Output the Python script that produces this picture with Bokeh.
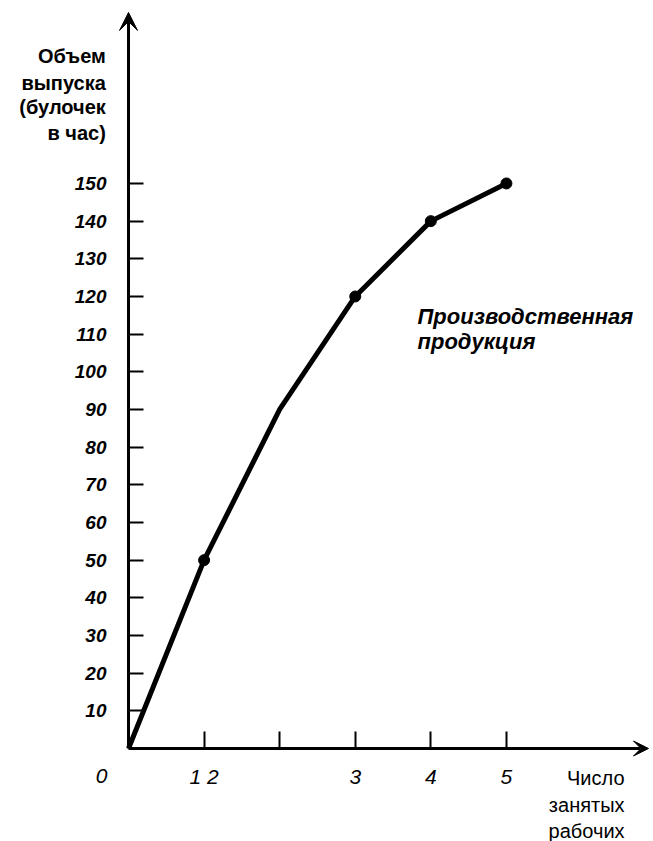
from bokeh.plotting import figure
from bokeh.models import Label, Arrow, VeeHead, FixedTicker, Range1d
from bokeh.embed import file_html
from bokeh.resources import INLINE

# ---- data ----
workers = [0, 1, 2, 3, 4, 5]
output = [0, 50, 90, 120, 140, 150]
marked_idx = [1, 3, 4, 5]

y_ticks = [10, 20, 30, 40, 50, 60, 70, 80, 90, 100, 110, 120, 130, 140, 150]
x_ticks = [1, 2, 3, 4, 5]
x_tick_labels = ["1 2", "", "3", "4", "5"]

y_title_lines = ["Объем", "выпуска", "(булочек", "в час)"]
x_title_lines = ["Число", "занятых", "рабочих"]
curve_label_lines = ["Производственная", "продукция"]

FONT = "Liberation Sans"

p = figure(width=653, height=841,
           x_range=Range1d(-1.6936, 6.946), y_range=Range1d(-24.69, 198.57),
           output_backend="svg", toolbar_location=None,
           min_border_left=0, min_border_right=0,
           min_border_top=0, min_border_bottom=0)
p.outline_line_color = None
p.grid.grid_line_color = None
p.background_fill_color = "white"
p.border_fill_color = "white"

# y axis
ya = p.yaxis[0]
ya.fixed_location = 0
ya.ticker = FixedTicker(ticks=y_ticks)
ya.axis_line_color = None
ya.major_tick_in = 15
ya.major_tick_out = 0
ya.minor_tick_in = 0
ya.minor_tick_out = 0
ya.major_tick_line_width = 2
ya.major_tick_line_color = "black"
ya.major_label_standoff = 22
ya.major_label_text_font = FONT
ya.major_label_text_font_style = "bold italic"
ya.major_label_text_font_size = "19px"
ya.major_label_text_color = "black"

# x axis
xa = p.xaxis[0]
xa.fixed_location = 0
xa.ticker = FixedTicker(ticks=x_ticks)
xa.major_label_overrides = {t: l for t, l in zip(x_ticks, x_tick_labels)}
xa.axis_line_color = None
xa.major_tick_in = 17
xa.major_tick_out = 0
xa.minor_tick_in = 0
xa.minor_tick_out = 0
xa.major_tick_line_width = 2
xa.major_tick_line_color = "black"
xa.major_label_standoff = 17
xa.major_label_text_font = FONT
xa.major_label_text_font_style = "italic"
xa.major_label_text_font_size = "21px"
xa.major_label_text_color = "black"

# axis arrows
p.add_layout(Arrow(end=VeeHead(size=18, fill_color="black", line_color="black", line_width=1),
                   x_start=0, y_start=0, x_end=0, y_end=195.4,
                   line_width=3, line_color="black"))
p.add_layout(Arrow(end=VeeHead(size=15, fill_color="black", line_color="black", line_width=1),
                   x_start=0, y_start=0, x_end=6.88, y_end=0,
                   line_width=3, line_color="black"))

# production curve
p.line(workers, output, line_width=5, line_color="black", line_join="round")
p.scatter([workers[i] for i in marked_idx], [output[i] for i in marked_idx],
          size=11, color="black")

# origin label
p.add_layout(Label(x=-0.357, y=-7.4, text="0", text_align="center",
                   text_baseline="alphabetic", text_font=FONT,
                   text_font_style="italic", text_font_size="21px", text_color="black"))

# y title
for t, yy in zip(y_title_lines, [183.8, 176.8, 170.2, 163.3]):
    p.add_layout(Label(x=-0.30, y=yy, text=t, text_align="right",
                       text_baseline="alphabetic", text_font=FONT,
                       text_font_style="bold", text_font_size="20px", text_color="black"))

# x title
for t, yy in zip(x_title_lines, [-7.96, -14.87, -21.77]):
    p.add_layout(Label(x=6.563, y=yy, text=t, text_align="right",
                       text_baseline="alphabetic", text_font=FONT,
                       text_font_style="normal", text_font_size="20px", text_color="black"))

# curve label
for t, yy in zip(curve_label_lines, [114.7, 108.0]):
    p.add_layout(Label(x=3.824, y=yy, text=t, text_align="left",
                       text_baseline="alphabetic", text_font=FONT,
                       text_font_style="bold italic", text_font_size="22px", text_color="black"))

open("out.html", "w").write(file_html(p, INLINE))
